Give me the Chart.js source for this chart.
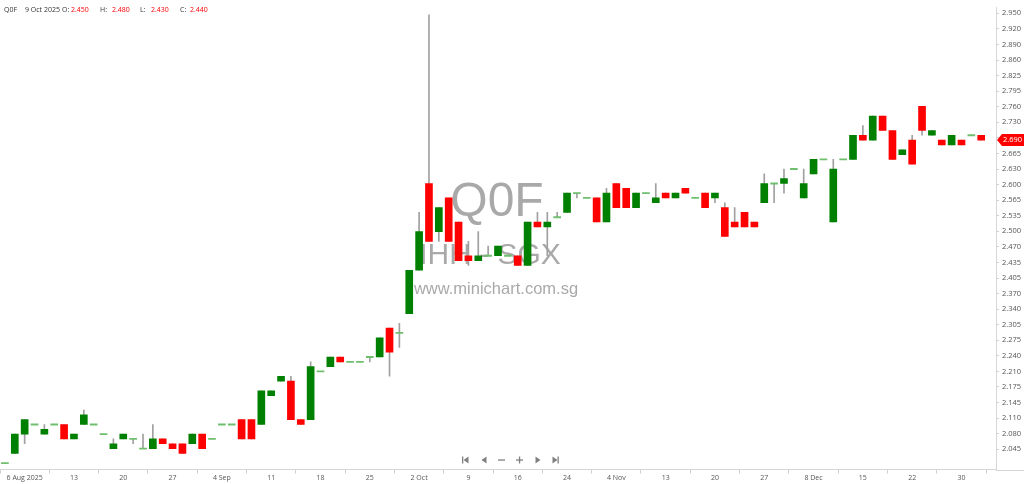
<!DOCTYPE html>
<html>
<head>
<meta charset="utf-8">
<script src="https://cdn.jsdelivr.net/npm/chart.js@4.4.1/dist/chart.umd.min.js"></script>
<style>
  html, body { margin: 0; padding: 0; background: #fff; }
  #wrap { width: 1024px; height: 484px; position: relative; }
</style>
</head>
<body>
<div id="wrap"><canvas id="q0fChart"></canvas></div>
<script>
// Q0F (IHH - SGX) daily candles, Aug - Dec 2025
var openPx  = [2.02,2.04,2.08,2.10,2.08,2.10,2.10,2.07,2.10,2.10, 2.08,2.05,2.07,2.07,2.05,2.05,2.07,2.06,2.06,2.06,
               2.08,2.07,2.10,2.10,2.11,2.11,2.10,2.16,2.19,2.19, 2.11,2.11,2.21,2.22,2.24,2.23,2.23,2.24,2.24,2.30,
               2.29,2.33,2.42,2.60,2.50,2.57,2.52,2.45,2.44,2.45, 2.45,2.45,2.45,2.43,2.52,2.51,2.53,2.54,2.58,2.57,
               2.57,2.52,2.60,2.59,2.55,2.58,2.56,2.58,2.57,2.59, 2.57,2.58,2.57,2.55,2.52,2.54,2.52,2.56,2.60,2.60,
               2.63,2.57,2.62,2.65,2.52,2.65,2.65,2.70,2.69,2.74, 2.71,2.66,2.69,2.76,2.70,2.69,2.68,2.69,2.70,2.70];
var highPx  = [2.02,2.08,2.11,2.10,2.10,2.10,2.10,2.08,2.13,2.10, 2.08,2.07,2.08,2.07,2.08,2.10,2.07,2.06,2.06,2.08,
               2.08,2.07,2.10,2.10,2.11,2.11,2.17,2.17,2.20,2.20, 2.11,2.23,2.21,2.24,2.24,2.23,2.23,2.24,2.28,2.30,
               2.31,2.42,2.54,2.95,2.55,2.57,2.52,2.48,2.50,2.47, 2.47,2.45,2.45,2.52,2.54,2.54,2.54,2.58,2.58,2.57,
               2.57,2.59,2.60,2.59,2.58,2.58,2.60,2.58,2.58,2.59, 2.57,2.58,2.58,2.56,2.55,2.54,2.52,2.62,2.60,2.63,
               2.63,2.63,2.65,2.65,2.65,2.65,2.70,2.72,2.74,2.74, 2.71,2.67,2.70,2.76,2.71,2.69,2.70,2.69,2.70,2.70];
var lowPx   = [2.02,2.04,2.06,2.10,2.08,2.10,2.07,2.07,2.10,2.10, 2.08,2.05,2.07,2.06,2.05,2.05,2.06,2.05,2.04,2.06,
               2.05,2.07,2.10,2.10,2.07,2.07,2.10,2.16,2.19,2.11, 2.10,2.11,2.21,2.22,2.23,2.23,2.23,2.23,2.24,2.20,
               2.26,2.33,2.42,2.48,2.48,2.48,2.44,2.43,2.44,2.45, 2.45,2.45,2.43,2.43,2.51,2.45,2.53,2.54,2.57,2.57,
               2.52,2.52,2.55,2.55,2.55,2.58,2.56,2.57,2.57,2.58, 2.57,2.55,2.56,2.49,2.51,2.51,2.51,2.56,2.56,2.58,
               2.63,2.57,2.62,2.65,2.52,2.65,2.65,2.69,2.69,2.71, 2.65,2.66,2.64,2.70,2.70,2.68,2.68,2.68,2.70,2.69];
var closePx = [2.02,2.08,2.11,2.10,2.09,2.10,2.07,2.08,2.12,2.10, 2.08,2.06,2.08,2.07,2.05,2.07,2.06,2.05,2.04,2.08,
               2.05,2.07,2.10,2.10,2.07,2.07,2.17,2.17,2.20,2.11, 2.10,2.22,2.21,2.24,2.23,2.23,2.23,2.24,2.28,2.25,
               2.29,2.42,2.50,2.48,2.55,2.48,2.44,2.44,2.45,2.45, 2.47,2.45,2.43,2.52,2.51,2.52,2.53,2.58,2.58,2.57,
               2.52,2.58,2.55,2.55,2.58,2.58,2.57,2.57,2.58,2.58, 2.57,2.55,2.58,2.49,2.51,2.51,2.51,2.60,2.60,2.61,
               2.63,2.60,2.65,2.65,2.63,2.65,2.70,2.69,2.74,2.71, 2.65,2.67,2.64,2.71,2.71,2.68,2.70,2.68,2.70,2.69];

// x axis labels and the candle they sit under
var xTickIdx    = [2, 7, 12, 17, 22, 27, 32, 37, 42, 47, 52, 57, 62, 67, 72, 77, 82, 87, 92, 97];
var xTickLabels = ['6 Aug 2025', '13', '20', '27', '4 Sep', '11', '18', '25', '2 Oct', '9',
                   '16', '24', '4 Nov', '13', '20', '27', '8 Dec', '15', '22', '30'];

// price axis labels, top to bottom
var yTickLabels = ['2.950','2.920','2.890','2.860','2.825','2.795','2.760','2.730','2.695','2.665',
                   '2.630','2.600','2.565','2.535','2.500','2.470','2.435','2.405','2.370','2.340',
                   '2.305','2.275','2.240','2.210','2.175','2.145','2.110','2.080','2.045'];
var yTickTop = 2.953, yTickStep = 0.0323;

var symbol = 'Q0F', stockName = 'IHH - SGX', siteName = 'www.minichart.com.sg';
var hoverIdx = 47, hoverDate = '9 Oct 2025';

var UP = '#008000', DOWN = '#ff0000', FLAT = '#6fbf6f', WICK = '#a0a0a0';

var bodies = [], bodyColors = [], wicks = [];
for (var i = 0; i < openPx.length; i++) {
     var o = openPx[i], c = closePx[i];
     if (o === c) {
          bodies.push({ x: i, y: [o - 0.0012, o + 0.0012] });
          bodyColors.push(FLAT);
     } else {
          bodies.push({ x: i, y: [Math.min(o, c), Math.max(o, c)] });
          bodyColors.push(c > o ? UP : DOWN);
     }
     wicks.push({ x: i, y: [lowPx[i], highPx[i]] });
}

var FONT = "'Open Sans', 'Liberation Sans', sans-serif";

// watermark sits behind the candles
var watermark = {
     id: 'watermark',
     beforeDatasetsDraw: function (chart) {
          var ctx = chart.ctx;
          ctx.save();
          ctx.fillStyle = 'rgba(140,140,140,0.75)';
          ctx.textAlign = 'center';
          ctx.textBaseline = 'middle';
          ctx.font = "48px 'Liberation Sans', Arial, sans-serif";
          ctx.fillText(symbol, 497, 203);
          ctx.font = "30px 'Liberation Sans', Arial, sans-serif";
          ctx.fillText(stockName, 490, 256);
          ctx.font = "16.5px 'Liberation Sans', Arial, sans-serif";
          ctx.fillText(siteName, 496, 289);
          ctx.restore();
     }
};

// header line, last price tag and the navigation buttons
var overlay = {
     id: 'overlay',
     afterDraw: function (chart) {
          var ctx = chart.ctx;
          var area = chart.chartArea;
          ctx.save();

          // bottom rule carries on under the price axis
          ctx.fillStyle = '#d6d6d6';
          ctx.fillRect(area.right, Math.round(area.bottom), 1024 - area.right, 1);

          ctx.font = '7px ' + FONT;
          ctx.textBaseline = 'middle';
          ctx.textAlign = 'left';
          var parts = [
               [symbol, 4, '#333'], [hoverDate, 25, '#333'],
               ['O:', 62, '#333'], [openPx[hoverIdx].toFixed(3), 71, DOWN],
               ['H:', 100, '#333'], [highPx[hoverIdx].toFixed(3), 112, DOWN],
               ['L:', 140, '#333'], [lowPx[hoverIdx].toFixed(3), 151, DOWN],
               ['C:', 180, '#333'], [closePx[hoverIdx].toFixed(3), 190, DOWN]
          ];
          parts.forEach(function (p) {
               ctx.fillStyle = p[2];
               ctx.fillText(p[0], p[1], 10);
          });

          // last price tag on the price axis
          var last = closePx.length - 1;
          var y = chart.scales.y.getPixelForValue(closePx[last]);
          var x0 = area.right + 1;
          ctx.fillStyle = DOWN;
          ctx.beginPath();
          ctx.moveTo(x0, y);
          ctx.lineTo(x0 + 5, y - 6);
          ctx.lineTo(1024, y - 6);
          ctx.lineTo(1024, y + 6);
          ctx.lineTo(x0 + 5, y + 6);
          ctx.closePath();
          ctx.fill();
          ctx.font = '7.5px ' + FONT;
          ctx.fillStyle = '#fff';
          ctx.fillText(closePx[last].toFixed(3), x0 + 6, y);

          // navigation buttons
          var ny = 460, g = '#808080';
          ctx.fillStyle = g;
          function tri(cx, dir) {
               ctx.beginPath();
               ctx.moveTo(cx - 2.5 * dir, ny);
               ctx.lineTo(cx + 2.5 * dir, ny - 3.5);
               ctx.lineTo(cx + 2.5 * dir, ny + 3.5);
               ctx.closePath();
               ctx.fill();
          }
          tri(466, 1); ctx.fillRect(462, ny - 3.5, 1.3, 7);
          tri(484, 1);
          ctx.fillRect(498, ny - 0.6, 7, 1.3);
          ctx.fillRect(516, ny - 0.6, 7, 1.3); ctx.fillRect(518.9, ny - 3.5, 1.3, 7);
          tri(538, -1);
          tri(555, -1); ctx.fillRect(557.5, ny - 3.5, 1.3, 7);
          ctx.restore();
     }
};

var ctx = document.getElementById('q0fChart').getContext('2d');
window.q0fChart = new Chart(ctx, {
     type: 'bar',
     data: {
          datasets: [{
               label: 'body',
               data: bodies,
               backgroundColor: bodyColors,
               barThickness: 7,
               grouped: false,
               order: 0
          }, {
               label: 'wick',
               data: wicks,
               backgroundColor: WICK,
               barThickness: 1,
               grouped: false,
               order: 1
          }]
     },
     options: {
          responsive: true,
          maintainAspectRatio: false,
          animation: false,
          layout: { padding: 0 },
          plugins: { legend: { display: false }, tooltip: { enabled: false } },
          scales: {
               x: {
                    type: 'linear',
                    offset: false,
                    min: -0.5,
                    max: 100.5,
                    afterBuildTicks: function (scale) {
                         scale.ticks = xTickIdx.map(function (v) { return { value: v }; });
                    },
                    afterFit: function (scale) { scale.height = 14.5; },
                    grid: { drawOnChartArea: false, color: '#cfcfcf', tickLength: 4 },
                    border: { color: '#d6d6d6' },
                    ticks: {
                         autoSkip: false,
                         maxRotation: 0,
                         padding: 0,
                         color: '#555',
                         font: { size: 7, family: FONT },
                         callback: function (v, idx) { return xTickLabels[idx]; }
                    }
               },
               y: {
                    position: 'right',
                    min: 2.0066,
                    max: 2.9651,
                    afterBuildTicks: function (scale) {
                         scale.ticks = yTickLabels.map(function (s, k) { return { value: yTickTop - k * yTickStep }; });
                    },
                    afterFit: function (scale) { scale.width = 28; },
                    grid: { drawOnChartArea: false, color: '#cfcfcf', tickLength: 3 },
                    border: { color: '#d6d6d6' },
                    ticks: {
                         autoSkip: false,
                         padding: 3,
                         color: '#555',
                         font: { size: 7.5, family: FONT },
                         callback: function (v, idx) { return yTickLabels[idx]; }
                    }
               }
          }
     },
     plugins: [watermark, overlay]
});
</script>
</body>
</html>
